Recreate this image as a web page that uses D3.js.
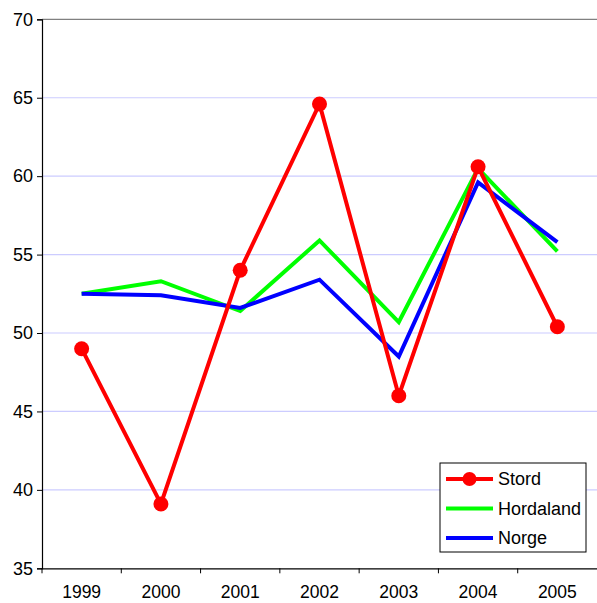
<!DOCTYPE html>
<html>
<head>
<meta charset="utf-8">
<script src="https://cdn.jsdelivr.net/npm/d3@7"></script>
<style>
  body { margin: 0; background: #fff; }
  text { font-family: "Liberation Sans", Arial, sans-serif; }
</style>
</head>
<body>
<div id="chart"></div>
<script>
const years = ['1999', '2000', '2001', '2002', '2003', '2004', '2005'];
const stord = [49.0, 39.1, 54.0, 64.6, 46.0, 60.6, 50.4];
const hordaland = [52.5, 53.3, 51.4, 55.9, 50.7, 60.5, 55.2];
const norge = [52.5, 52.4, 51.6, 53.4, 48.5, 59.6, 55.8];
const yTicks = [35, 40, 45, 50, 55, 60, 65, 70];

const W = 597, H = 603;
const plotLeft = 42, plotRight = 597, plotTop = 19.3, plotBottom = 568.3;

const svg = d3.select('#chart').append('svg')
  .attr('width', W)
  .attr('height', H);

const x = d3.scaleBand().domain(years).range([plotLeft, plotRight]);
const y = d3.scaleLinear().domain([35, 70]).range([plotBottom, plotTop]);

// gridlines
svg.append('g')
  .selectAll('line')
  .data(yTicks.filter(d => d > 35))
  .join('line')
  .attr('x1', plotLeft).attr('x2', plotRight)
  .attr('y1', d => y(d)).attr('y2', d => y(d))
  .attr('stroke', d => d === 70 ? '#808080' : '#ccccff')
  .attr('stroke-width', 1.2);

// y axis
const yAxis = svg.append('g')
  .attr('transform', `translate(${plotLeft},0)`)
  .call(d3.axisLeft(y).tickValues(yTicks).tickSize(5).tickPadding(4));
yAxis.select('.domain').attr('stroke', '#000').attr('stroke-width', 1.2);
yAxis.selectAll('.tick line').attr('stroke', '#000');
yAxis.selectAll('text').attr('font-size', 18).attr('fill', '#000')
  .attr('font-family', '"Liberation Sans", Arial, sans-serif');

// x axis
const xAxis = svg.append('g')
  .attr('transform', `translate(0,${plotBottom})`)
  .call(d3.axisBottom(x).tickSize(0).tickPadding(17));
xAxis.select('.domain').attr('stroke', '#000').attr('stroke-width', 1.2);
xAxis.selectAll('text').attr('font-size', 17.5).attr('fill', '#000')
  .attr('font-family', '"Liberation Sans", Arial, sans-serif');
xAxis.append('g')
  .selectAll('line')
  .data(years)
  .join('line')
  .attr('x1', d => x(d)).attr('x2', d => x(d))
  .attr('y1', 0).attr('y2', 5)
  .attr('stroke', '#000');

const cx = d => x(d) + x.bandwidth() / 2;
const line = d3.line().x(d => cx(d[0])).y(d => y(d[1]));

const series = [
  { name: 'Stord', values: stord, color: '#ff0000', marker: true },
  { name: 'Hordaland', values: hordaland, color: '#00ff00', marker: false },
  { name: 'Norge', values: norge, color: '#0000ff', marker: false },
];

// draw Hordaland and Norge first, Stord on top
[series[1], series[2], series[0]].forEach(s => {
  const pts = years.map((yr, i) => [yr, s.values[i]]);
  svg.append('path')
    .datum(pts)
    .attr('d', line)
    .attr('fill', 'none')
    .attr('stroke', s.color)
    .attr('stroke-width', 4)
    .attr('stroke-linejoin', 'miter');
  if (s.marker) {
    svg.append('g').selectAll('circle')
      .data(pts)
      .join('circle')
      .attr('cx', d => cx(d[0]))
      .attr('cy', d => y(d[1]))
      .attr('r', 7.5)
      .attr('fill', s.color);
  }
});

// legend
const lg = svg.append('g').attr('transform', 'translate(440,463)');
lg.append('rect')
  .attr('width', 146).attr('height', 89)
  .attr('fill', '#fff').attr('stroke', '#000').attr('stroke-width', 1);
series.forEach((s, i) => {
  const yy = 16 + i * 29.5;
  lg.append('line')
    .attr('x1', 6).attr('x2', 53)
    .attr('y1', yy).attr('y2', yy)
    .attr('stroke', s.color).attr('stroke-width', 4);
  if (s.marker) {
    lg.append('circle').attr('cx', 29.5).attr('cy', yy).attr('r', 7).attr('fill', s.color);
  }
  lg.append('text')
    .attr('x', 58).attr('y', yy)
    .attr('dy', '0.35em')
    .attr('font-size', 18)
    .text(s.name);
});
</script>
</body>
</html>
